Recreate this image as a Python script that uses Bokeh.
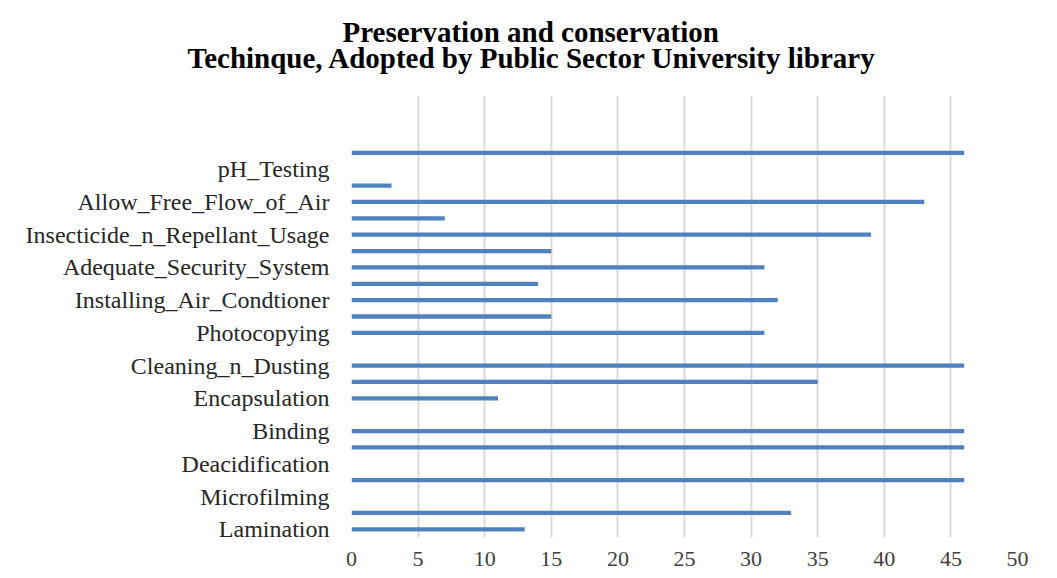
from bokeh.plotting import figure
from bokeh.models import Range1d, FixedTicker, Title, ColumnDataSource, BoxAnnotation
from bokeh.embed import file_html
from bokeh.resources import INLINE

# Category labels (shown on every other row, bottom to top)
technique_labels = [
    "Lamination", "Microfilming", "Deacidification", "Binding", "Encapsulation",
    "Cleaning_n_Dusting", "Photocopying", "Installing_Air_Condtioner",
    "Adequate_Security_System", "Insecticide_n_Repellant_Usage",
    "Allow_Free_Flow_of_Air", "pH_Testing",
]
# Bar value of each row, bottom to top
row_values = [13, 33, 0, 46, 0, 46, 46, 0, 11, 35, 46, 0,
              31, 15, 32, 14, 31, 15, 39, 7, 43, 3, 0, 46]
total_rows = 27  # includes empty rows at the top of the plot
x_ticks = [0, 5, 10, 15, 20, 25, 30, 35, 40, 45, 50]
title_lines = ["Preservation and conservation",
               "Techinque, Adopted by Public Sector University library"]

rows = list(range(len(row_values)))
label_rows = [2 * i for i in range(len(technique_labels))]

src = ColumnDataSource(dict(y=rows, v=row_values))

FONT = "Liberation Serif"

p = figure(width=1057, height=578, output_backend="svg", toolbar_location=None,
           x_range=Range1d(0, 50), y_range=Range1d(-0.5, total_rows - 0.5),
           min_border_left=351, min_border_right=40, min_border_bottom=41,
           min_border_top=95)
p.title.visible = False

t2 = Title(text=title_lines[1], align="left", text_font=FONT, text_font_size="29px",
           text_font_style="bold", text_color="#000000", offset=-164, standoff=44)
t1 = Title(text=title_lines[0], align="left", text_font=FONT, text_font_size="29px",
           text_font_style="bold", text_color="#000000", offset=-9, standoff=-60)
p.add_layout(t2, "above")
p.add_layout(t1, "above")

# light grey chart-area edges (left and right)
for lx in (6, 1054):
    p.add_layout(BoxAnnotation(left=lx, right=lx + 2, top=5, bottom=580,
                               left_units="canvas", right_units="canvas",
                               top_units="canvas", bottom_units="canvas",
                               fill_color="#e2e2e2", fill_alpha=1.0,
                               line_color=None, level="underlay"))

p.hbar(y="y", left=0, right="v", height=0.26, source=src,
       fill_color="#4F81BD", line_color=None)

p.outline_line_color = None
p.ygrid.grid_line_color = None
p.xgrid.grid_line_color = "#d9d9d9"
p.xgrid.grid_line_width = 2

p.xaxis.ticker = FixedTicker(ticks=x_ticks)
p.xaxis.axis_line_color = None
p.xaxis.major_tick_line_color = None
p.xaxis.minor_tick_line_color = None
p.xaxis.major_tick_in = 0
p.xaxis.major_tick_out = 0
p.xaxis.major_label_standoff = 14
p.xaxis.major_label_text_font = FONT
p.xaxis.major_label_text_font_size = "22px"
p.xaxis.major_label_text_color = "#404040"

p.yaxis.ticker = FixedTicker(ticks=label_rows)
p.yaxis.major_label_overrides = {r: lab for r, lab in zip(label_rows, technique_labels)}
p.yaxis.axis_line_color = None
p.yaxis.major_tick_line_color = None
p.yaxis.minor_tick_line_color = None
p.yaxis.major_tick_in = 0
p.yaxis.major_tick_out = 0
p.yaxis.major_label_standoff = 22
p.yaxis.major_label_text_font = FONT
p.yaxis.major_label_text_font_size = "24px"
p.yaxis.major_label_text_color = "#262626"

open("out.html", "w").write(file_html(p, INLINE))
